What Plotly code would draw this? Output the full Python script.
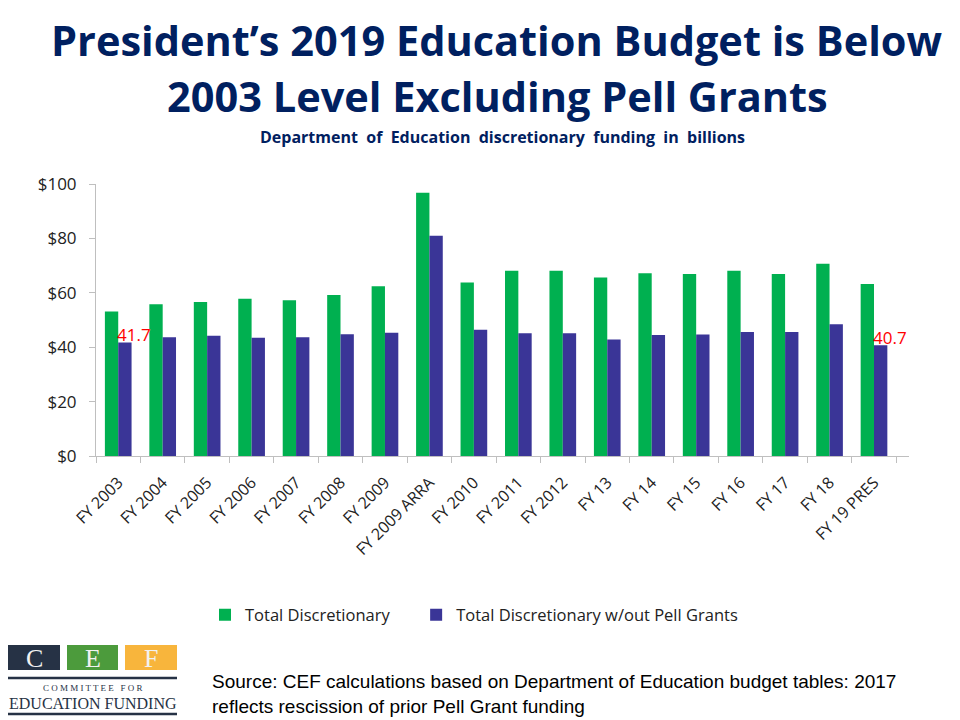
import plotly.graph_objects as go

categories = ["FY 2003", "FY 2004", "FY 2005", "FY 2006", "FY 2007", "FY 2008", "FY 2009",
              "FY 2009 ARRA", "FY 2010", "FY 2011", "FY 2012", "FY 13", "FY 14", "FY 15",
              "FY 16", "FY 17", "FY 18", "FY 19 PRES"]
total_discretionary = [53.1, 55.8, 56.6, 57.8, 57.3, 59.2, 62.4, 96.8, 63.8, 68.1, 68.1,
                       65.6, 67.2, 66.9, 68.1, 66.9, 70.7, 63.2]
without_pell = [41.7, 43.7, 44.2, 43.5, 43.7, 44.8, 45.3, 81.0, 46.4, 45.1, 45.1,
                42.8, 44.5, 44.7, 45.6, 45.6, 48.4, 40.7]
labeled_idx = [0, 17]
y_ticks = [0, 20, 40, 60, 80, 100]
y_ticktext = ["$0", "$20", "$40", "$60", "$80", "$100"]

GREEN = "#00B050"
BLUE = "#3A3597"
NAVY = "#002060"

W, H = 960, 720
PL, PR, PT, PB = 96, 909, 184, 456


def px(x):
    return (x - PL) / (PR - PL)


def py(y):
    return (PB - y) / (PB - PT)


fig = go.Figure()
fig.add_trace(go.Bar(x=categories, y=total_discretionary,
                     name="Total Discretionary" + "\u00a0" * 5,
                     marker=dict(color=GREEN, line=dict(width=0))))
fig.add_trace(go.Bar(x=categories, y=without_pell, name="Total Discretionary w/out Pell Grants",
                     marker=dict(color=BLUE, line=dict(width=0))))

annotations = []
for i in labeled_idx:
    annotations.append(dict(x=categories[i], y=without_pell[i], xref="x", yref="y",
                            text=f"{without_pell[i]:.1f}", showarrow=False,
                            xshift=16, yshift=8, yanchor="middle",
                            font=dict(family="Open Sans", size=17, color="#FF0000")))

# title lines
for txt, yc in (("President’s 2019 Education Budget is Below", 40),
                ("2003 Level Excluding Pell Grants", 96)):
    annotations.append(dict(x=px(497), y=py(yc), xref="paper", yref="paper", xanchor="center",
                            yanchor="middle", showarrow=False, text=f"<b>{txt}</b>",
                            font=dict(family="Open Sans", size=41.5, color=NAVY)))

# subtitle
annotations.append(dict(x=0.5, y=py(137), xref="paper", yref="paper", xanchor="center",
                        yanchor="middle", showarrow=False,
                        text="<b>Department  of  Education  discretionary  funding  in  billions</b>",
                        font=dict(family="Open Sans", size=16, color=NAVY)))

# source text
annotations.append(dict(x=px(210), y=py(694), xref="paper", yref="paper", xanchor="left",
                        yanchor="middle", align="left", showarrow=False,
                        text="Source: CEF calculations based on Department of Education budget tables: 2017<br>reflects rescission of prior Pell Grant funding",
                        font=dict(family="Liberation Sans", size=19, color="#000000")))

shapes = []
# logo boxes
boxes = [(8, 60, "#263245", "C"), (67, 118, "#4C9B3C", "E"), (125, 177, "#F8B53C", "F")]
for x0, x1, col, letter in boxes:
    shapes.append(dict(type="rect", xref="paper", yref="paper", x0=px(x0), x1=px(x1),
                       y0=py(670), y1=py(645), fillcolor=col, line=dict(width=0)))
    annotations.append(dict(x=px((x0 + x1) / 2), y=py(658), xref="paper", yref="paper",
                            text=letter, showarrow=False, xanchor="center", yanchor="middle",
                            font=dict(family="Liberation Serif", size=26, color="#F2F2F2")))
for yy in (678, 714):
    shapes.append(dict(type="line", xref="paper", yref="paper", x0=px(8), x1=px(177),
                       y0=py(yy), y1=py(yy), line=dict(color="#263245", width=2.5)))
annotations.append(dict(x=px(92.5), y=py(688), xref="paper", yref="paper",
                        text="C O M M I T T E E   F O R", showarrow=False, xanchor="center",
                        yanchor="middle",
                        font=dict(family="Liberation Serif", size=9, color="#263245")))
annotations.append(dict(x=px(92.5), y=py(703), xref="paper", yref="paper",
                        text="EDUCATION FUNDING", showarrow=False, xanchor="center",
                        yanchor="middle",
                        font=dict(family="Liberation Serif", size=16, color="#263245")))

fig.update_layout(
    width=W, height=H,
    margin=dict(l=PL, r=W - PR, t=PT, b=H - PB, autoexpand=False),
    paper_bgcolor="white", plot_bgcolor="white",
    barmode="group", bargap=0.4, bargroupgap=0,
    xaxis=dict(type="category", showline=True, linecolor="#BFBFBF", linewidth=1,
               ticks="outside", tickson="boundaries", ticklen=6, tickcolor="#BFBFBF",
               tickangle=-45, showgrid=False, ticklabelstandoff=10,
               tickfont=dict(family="Open Sans", size=16, color="#222222")),
    yaxis=dict(range=[0, 100], tickvals=y_ticks, ticktext=y_ticktext, showline=True,
               linecolor="#BFBFBF", linewidth=1, ticks="outside", ticklen=6,
               tickcolor="#BFBFBF", showgrid=False, zeroline=False, ticklabelstandoff=9,
               tickfont=dict(family="Open Sans", size=17, color="#222222")),
    legend=dict(orientation="h", x=px(474), xanchor="center", y=py(615), yanchor="middle",
                font=dict(family="Open Sans", size=16.5, color="#222222"),
                itemwidth=30, bgcolor="rgba(0,0,0,0)"),
    annotations=annotations, shapes=shapes,
)

fig.write_html("out.html")
